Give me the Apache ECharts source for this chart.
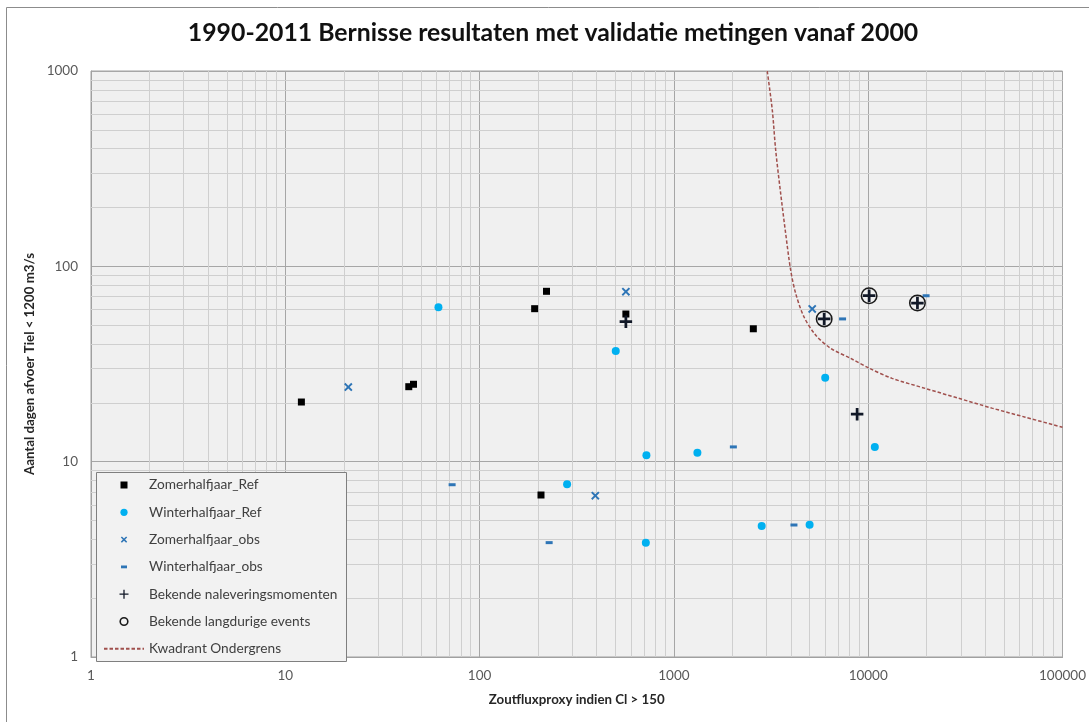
<!DOCTYPE html>
<html>
<head>
<meta charset="utf-8">
<script src="https://cdn.jsdelivr.net/npm/echarts@6/dist/echarts.min.js"></script>
<style>
html,body{margin:0;padding:0;background:#fff;}
#c{width:1089px;height:722px;}
</style>
</head>
<body>
<div id="c"></div>
<script>
// ---- data ----
var zomerRef = [[12.1,20.2],[43.2,24.2],[45.7,24.9],[192,60.7],[221,74.5],[566,57.0],[207,6.75],[2563,47.9]];
var winterRef = [[61.4,61.7],[502,36.9],[722,10.8],[1321,11.1],[282,7.66],[717,3.85],[6007,26.9],[10815,11.9],[2830,4.69],[4993,4.76]];
var zomerObs = [[21.1,24.1],[566,74.2],[394,6.70],[5150,60.5]];
var winterObs = [[72.2,7.62],[228,3.85],[2023,11.9],[7380,53.8],[19850,70.7],[4148,4.74]];
var nalevering = [[566,52.1],[5935,53.8],[10110,70.7],[17920,64.9],[8770,17.5]];
var langdurig = [[5935,53.8],[10110,70.7],[17920,64.9]];
var ondergrens = [[3022,1000],[3209,631],[3340,394],[3542,237],[3758,148],[3988,95.8],[4231,72.8],[4668,55.2],[5360,44.5],[6400,38.1],[8110,33.8],[10110,30.1],[13270,26.7],[19700,23.7],[29230,21.1],[43330,18.8],[64300,16.9],[100000,15.0]];
var seriesNames = ['Zomerhalfjaar_Ref','Winterhalfjaar_Ref','Zomerhalfjaar_obs','Winterhalfjaar_obs','Bekende naleveringsmomenten','Bekende langdurige events','Kwadrant Ondergrens'];
var titleText = '1990-2011 Bernisse resultaten met validatie metingen vanaf 2000';
var xName = 'Zoutfluxproxy indien Cl > 150';
var yName = 'Aantal dagen afvoer Tiel < 1200 m3/s';
var xRange = [1, 100000];
var yRange = [1, 1000];

// minor log gridlines (2..9 in every decade)
function minorValues(lo, hi) {
  var out = [];
  for (var d = lo; d < hi; d *= 10) {
    for (var k = 2; k <= 9; k++) out.push(d * k);
  }
  return out;
}
var minorX = minorValues(xRange[0], xRange[1]);
var minorY = minorValues(yRange[0], yRange[1]);

var FONT = 'Lato';
var PATH_X = 'path://M0,1.6L1.6,0L5,3.4L8.4,0L10,1.6L6.6,5L10,8.4L8.4,10L5,6.6L1.6,10L0,8.4L3.4,5Z';
var PATH_PLUS = 'path://M3.9,0H6.1V3.9H10V6.1H6.1V10H3.9V6.1H0V3.9H3.9Z';
var PATH_RING = 'path://M10,5A5,5,0,1,1,0,5A5,5,0,1,1,10,5ZM9.1,5A4.1,4.1,0,1,0,0.9,5A4.1,4.1,0,1,0,9.1,5Z';

// legend icons (10x10 frame so keepAspect gives fixed sizes)
var LI_SQ = 'path://M0,0M10,10M1.5,1.5H8.5V8.5H1.5Z';
var LI_CIRC = 'path://M0,0M10,10M8.6,5A3.6,3.6,0,1,1,1.4,5A3.6,3.6,0,1,1,8.6,5Z';
var LI_X = 'path://M0,0M10,10M1.8,2.9L2.9,1.8L5,3.9L7.1,1.8L8.2,2.9L6.1,5L8.2,7.1L7.1,8.2L5,6.1L2.9,8.2L1.8,7.1L3.9,5Z';
var LI_DASH = 'path://M0,0M10,10M2,3.6H8V6.4H2Z';
var LI_PLUS = 'path://M0,0M10,10M4.35,0.5H5.65V4.35H9.5V5.65H5.65V9.5H4.35V5.65H0.5V4.35H4.35Z';
var LI_RING = 'path://M0,0M10,10M9.6,5A4.6,4.6,0,1,1,0.4,5A4.6,4.6,0,1,1,9.6,5ZM8,5A3,3,0,1,0,2,5A3,3,0,1,0,8,5Z';

var chart = echarts.init(document.getElementById('c'), null, {renderer: 'canvas'});
var option = {
  animation: false,
  backgroundColor: '#ffffff',
  textStyle: {fontFamily: FONT},
  title: {
    text: titleText,
    left: 553,
    textAlign: 'center',
    top: 21,
    padding: 0,
    textStyle: {fontFamily: FONT, fontSize: 24.8, fontWeight: 'bold', color: '#111'}
  },
  graphic: [
    {type: 'rect', z: 0, silent: true, shape: {x: 6.5, y: 7.5, width: 1200, height: 900}, style: {fill: 'none', stroke: '#8c8c8c', lineWidth: 1}},
    {type: 'rect', z: 100, silent: true, shape: {x: 96.5, y: 472.5, width: 250, height: 189}, style: {fill: '#f2f2f2', stroke: '#7f7f7f', lineWidth: 1}}
  ],
  legend: {
    z: 101,
    orient: 'vertical',
    left: 103,
    top: 478,
    padding: 0,
    itemWidth: 40,
    itemHeight: 10,
    itemGap: 13.3,
    symbolKeepAspect: true,
    textStyle: {fontFamily: FONT, fontSize: 13.7, color: '#404040', lineHeight: 14},
    data: [
      {name: seriesNames[0], icon: LI_SQ},
      {name: seriesNames[1], icon: LI_CIRC},
      {name: seriesNames[2], icon: LI_X},
      {name: seriesNames[3], icon: LI_DASH},
      {name: seriesNames[4], icon: LI_PLUS},
      {name: seriesNames[5], icon: LI_RING},
      {name: seriesNames[6], itemStyle: {opacity: 0}}
    ]
  },
  grid: {
    left: 91, right: 25, top: 71, bottom: 65,
    show: true, backgroundColor: '#f0f0f0', borderColor: '#a0a0a0', borderWidth: 1
  },
  xAxis: {
    type: 'log', logBase: 10, min: xRange[0], max: xRange[1],
    name: xName, nameLocation: 'middle', nameGap: 36,
    nameTextStyle: {fontFamily: FONT, fontSize: 13.3, fontWeight: 'bold', color: '#262626'},
    axisLine: {show: true, lineStyle: {color: '#a0a0a0'}},
    axisTick: {show: false},
    axisLabel: {margin: 12, fontFamily: FONT, fontSize: 13.5, color: '#595959', formatter: function(v){ return String(Math.round(v)); }},
    splitLine: {show: true, lineStyle: {color: '#a6a6a6', width: 1}}
  },
  yAxis: {
    type: 'log', logBase: 10, min: yRange[0], max: yRange[1],
    name: yName, nameLocation: 'middle', nameGap: 46, nameRotate: 90,
    nameTextStyle: {fontFamily: FONT, fontSize: 13.3, fontWeight: 'bold', color: '#262626'},
    axisLine: {show: true, lineStyle: {color: '#a0a0a0'}},
    axisTick: {show: false},
    axisLabel: {margin: 13, fontFamily: FONT, fontSize: 13.5, color: '#595959', formatter: function(v){ return String(Math.round(v)); }},
    splitLine: {show: true, lineStyle: {color: '#a6a6a6', width: 1}}
  },
  series: [
    {
      name: 'grid-minor', type: 'scatter', data: [], z: 1, silent: true,
      markLine: {
        z: 1, zlevel: 0,
        silent: true, symbol: ['none', 'none'], label: {show: false}, animation: false,
        lineStyle: {color: '#cfcfcf', width: 1, type: 'solid'},
        emphasis: {disabled: true},
        data: minorX.map(function(v){ return {xAxis: v}; }).concat(minorY.map(function(v){ return {yAxis: v}; }))
      }
    },
    {
      name: seriesNames[6], type: 'line', data: ondergrens, smooth: 0.3, symbol: 'none', z: 3,
      lineStyle: {color: '#a0504d', width: 1.5, type: [3.5, 2]},
      itemStyle: {color: '#a0504d'}
    },
    {name: seriesNames[0], type: 'scatter', data: zomerRef, symbol: 'rect', symbolSize: 7, z: 4, itemStyle: {color: '#000000', opacity: 1}},
    {name: seriesNames[1], type: 'scatter', data: winterRef, symbol: 'circle', symbolSize: 8, z: 4, itemStyle: {color: '#00b0f0', opacity: 1}},
    {name: seriesNames[2], type: 'scatter', data: zomerObs, symbol: PATH_X, symbolSize: 8.5, z: 4, itemStyle: {color: '#2e75b6', opacity: 1}},
    {name: seriesNames[3], type: 'scatter', data: winterObs, symbol: 'rect', symbolSize: [7, 3], z: 4, itemStyle: {color: '#2e75b6', opacity: 1}},
    {name: seriesNames[5], type: 'scatter', data: langdurig, symbol: PATH_RING, symbolSize: 17, z: 5, itemStyle: {color: '#1a1a1a', opacity: 1}},
    {name: seriesNames[4], type: 'scatter', data: nalevering, symbol: PATH_PLUS, symbolSize: 12.5, z: 6, itemStyle: {color: '#111827', opacity: 1}}
  ]
};
chart.setOption(option);
</script>
</body>
</html>
